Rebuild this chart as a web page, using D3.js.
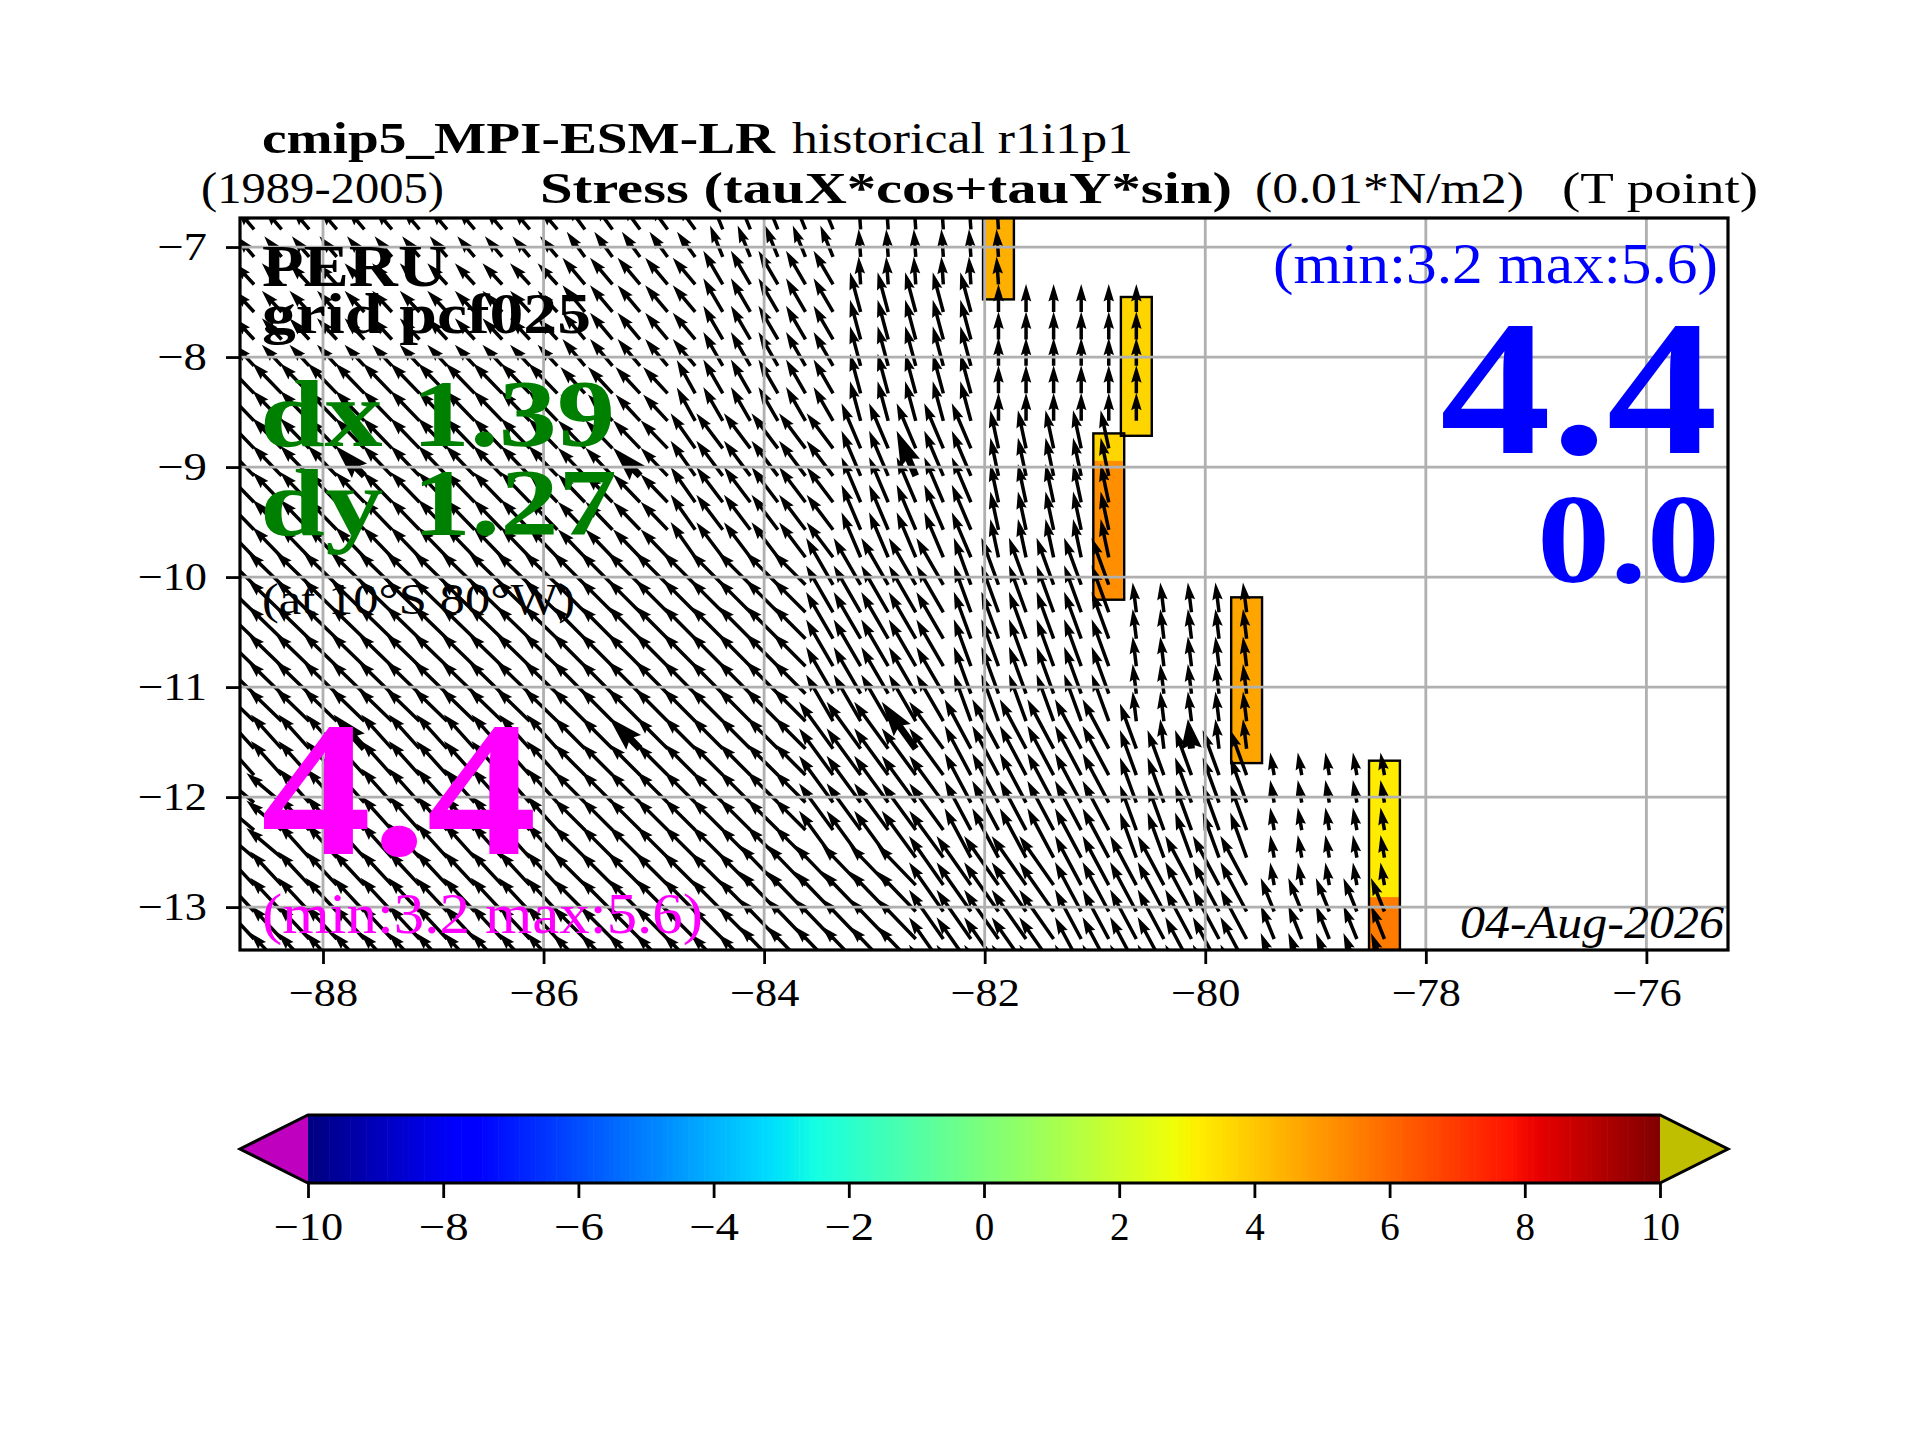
<!DOCTYPE html>
<html><head><meta charset="utf-8">
<style>html,body{margin:0;padding:0;background:#fff}svg{display:block}</style>
<script src="https://cdn.jsdelivr.net/npm/d3@7"></script></head><body>
<script>
// ---- grid of the stress arrows (0.25 degree model grid) ----
const gridLon=[-88.625,-88.375,-88.125,-87.875,-87.625,-87.375,-87.125,-86.875,-86.625,-86.375,-86.125,-85.875,-85.625,-85.375,-85.125,-84.875,-84.625,-84.375,-84.125,-83.875,-83.625,-83.375,-83.125,-82.875,-82.625,-82.375,-82.125,-81.875,-81.625,-81.375,-81.125,-80.875,-80.625,-80.375,-80.125,-79.875,-79.625,-79.375,-79.125,-78.875,-78.625,-78.375];
const gridLat=[-6.84,-7.09,-7.34,-7.59,-7.84,-8.08,-8.33,-8.58,-8.83,-9.08,-9.32,-9.57,-9.82,-10.07,-10.32,-10.56,-10.81,-11.06,-11.31,-11.56,-11.80,-12.05,-12.30,-12.55,-12.80,-13.04,-13.29,-13.54,-13.79];
// ---- stress blocks: the field is constant over each coarse model cell ----
const blockFirstCol=[0,12,17,22,0,12,17,22,27,0,12,16,12,16,17,22,27,0,12,21,26,32,33,32,33,0,0,2,12,21,26,37,0,12,19,25,30,37];
const blockLastCol =[11,16,21,27,11,16,21,26,32,11,15,16,15,16,21,26,31,11,20,25,31,36,36,32,36,1,1,11,20,25,31,41,11,18,24,29,36,41];
const blockFirstRow=[0,0,0,0,2,2,2,3,3,6,6,6,8,8,8,8,8,13,13,13,13,14,19,19,20,19,21,19,19,19,19,20,24,24,24,24,24,25];
const blockLastRow =[1,1,1,2,5,5,7,7,7,12,7,7,12,12,12,12,12,18,18,18,18,18,19,23,23,20,23,23,23,23,23,24,28,28,28,28,28,28];
const blockHeading =[130,126,112,94,133,130,120,105,90,134,133,119,134,125,127,113,102,136,135,120,110,97,97,110,110,132,140,132,135,126,118,100,133,135,134,125,118,112];
const blockStress  =[2.7,3.1,3.4,2.8,2.9,3.5,3.9,4.1,2.8,4.2,3.6,3.8,3.9,4.3,4.4,4.9,3.9,4.7,4.6,5.4,5.0,3.0,3.0,4.8,4.8,4.6,4.6,4.6,4.4,5.8,5.6,2.3,4.6,4.6,5.6,6.0,5.6,3.6];
// arrows drawn heavier
const boldCol=[4,14,24,4,14,24,34];
const boldRow=[9,9,9,19,19,19,19];
// ---- coastal cells coloured by along-shore stress ----
const coastCol     =[27,32,31,31,36,41,41];
const coastFirstRow=[0,3,8,9,14,20,25];
const coastLastRow =[2,7,8,13,19,24,28];
const coastValue   =[4.5,3.7,3.7,5.2,4.7,3.2,5.6];
// ---- ticks ----
const lonTicks=[-88,-86,-84,-82,-80,-78,-76];
const latTicks=[-7,-8,-9,-10,-11,-12,-13];
const cbarTicks=[-10,-8,-6,-4,-2,0,2,4,6,8,10];
const cbarLevels=d3.range(0,256);

const W=1920,H=1440,FONT='"Liberation Serif",serif';
const L=240,R=1728,T=218,B=950;
const svg=d3.select("body").append("svg").attr("width",W).attr("height",H).attr("viewBox",`0 0 ${W} ${H}`);
svg.append("rect").attr("width",W).attr("height",H).attr("fill","#fff");
const x=d3.scaleLinear().domain([-88.7525,-75.26]).range([L,R]);
const y=d3.scaleLinear().domain([-6.736,-13.39]).range([T,B]);

const jetStops=(t,s)=>{for(let i=1;i<s.length;i++){if(t<=s[i][0]){const a=s[i-1],b=s[i];return a[1]+(b[1]-a[1])*(t-a[0])/(b[0]-a[0]);}}return s[s.length-1][1];};
const jR=[[0,0],[.35,0],[.66,1],[.89,1],[1,.5]],jG=[[0,0],[.125,0],[.375,1],[.64,1],[.91,0],[1,0]],jB=[[0,.5],[.11,1],[.34,1],[.65,0],[1,0]];
const jet=t=>d3.rgb(255*jetStops(t,jR),255*jetStops(t,jG),255*jetStops(t,jB)).formatHex();
const colorT=d3.scaleLinear().domain([-10,10]).range([0,1]);

const defs=svg.append("defs");
defs.append("clipPath").attr("id","ax").append("rect").attr("x",L).attr("y",T).attr("width",R-L).attr("height",B-T);
const plot=svg.append("g").attr("clip-path","url(#ax)");

// coastal cells
const rowTop=r=>(r>0?(y(gridLat[r-1])+y(gridLat[r]))/2:y(gridLat[0])-13.6)-1.2;
const rowBot=r=>(r<gridLat.length-1?(y(gridLat[r+1])+y(gridLat[r]))/2:y(gridLat[r])+13.6)+1.2;
const cellL=c=>x(gridLon[c]-0.14),cellR=c=>x(gridLon[c]+0.14);
plot.selectAll("rect.coast").data(coastCol.map((c,i)=>({c,a:coastFirstRow[i],b:coastLastRow[i],v:coastValue[i]})))
 .join("rect").attr("class","coast")
 .attr("x",d=>cellL(d.c)).attr("width",d=>cellR(d.c)-cellL(d.c))
 .attr("y",d=>rowTop(d.a)).attr("height",d=>rowBot(d.b)-rowTop(d.a))
 .attr("fill",d=>jet(colorT(d.v)));
const outlines=Array.from(d3.group(coastCol.map((c,i)=>({c,a:coastFirstRow[i],b:coastLastRow[i]})),d=>d.c).values());
plot.selectAll("rect.outline").data(outlines).join("rect").attr("class","outline")
 .attr("x",g=>cellL(g[0].c)).attr("width",g=>cellR(g[0].c)-cellL(g[0].c))
 .attr("y",g=>rowTop(d3.min(g,d=>d.a))).attr("height",g=>rowBot(d3.max(g,d=>d.b))-rowTop(d3.min(g,d=>d.a)))
 .attr("fill","none").attr("stroke","#000").attr("stroke-width",2.4);

// quiver
const arrows=[];
blockFirstCol.forEach((c0,b)=>{
 for(let c=c0;c<=blockLastCol[b];c++)for(let r=blockFirstRow[b];r<=blockLastRow[b];r++){
  const a=blockHeading[b]*Math.PI/180;
  arrows.push({lon:gridLon[c],lat:gridLat[r],u:blockStress[b]*Math.cos(a),v:blockStress[b]*Math.sin(a),c,r});
 }
});
const boldSet=new Set(boldCol.map((c,i)=>c+"_"+boldRow[i]));
const quiverScale=10; // px per 0.01 N/m2
function arrowPath(d,w){
 const x0=x(d.lon),y0=y(d.lat),len=Math.hypot(d.u,d.v)*quiverScale;
 const ux=d.u/Math.hypot(d.u,d.v),uy=-d.v/Math.hypot(d.u,d.v),nx=-uy,ny=ux;
 const hl=Math.min(5*w,len),ha=Math.min(4.5*w,len*0.9),hw=1.5*w,sw=w/2;
 const P=(a,b)=>[x0+ux*a+nx*b,y0+uy*a+ny*b];
 const pts=[P(0,-sw),P(len-ha,-sw),P(len-hl,-hw),P(len,0),P(len-hl,hw),P(len-ha,sw),P(0,sw)];
 return d3.line()(pts)+"Z";
}
plot.selectAll("path.arrow").data(arrows).join("path").attr("class","arrow")
 .attr("d",d=>arrowPath(d,boldSet.has(d.c+"_"+d.r)?7:3.5)).attr("fill","#000");

// grid
const grid=svg.append("g").attr("stroke","#b0b0b0").attr("stroke-width",2.8);
grid.selectAll("line.v").data(lonTicks).join("line").attr("x1",d=>x(d)).attr("x2",d=>x(d)).attr("y1",T).attr("y2",B);
grid.selectAll("line.h").data(latTicks).join("line").attr("y1",d=>y(d)).attr("y2",d=>y(d)).attr("x1",L).attr("x2",R);

// axes
const minus=d=>String(d).replace("-","\u2212");
function styleAxis(g,dy,yAttr){
 g.select(".domain").remove();
 g.selectAll(".tick line").attr("stroke","#000").attr("stroke-width",2.8);
 g.selectAll(".tick text").attr("font-family",FONT).attr("font-size",39).attr("fill","#000")
  .each(function(d){const n=String(Math.abs(d)).length;const t=d3.select(this);
    t.attr("textLength",((d<0?.778:0)+.5*n)*39).attr("lengthAdjust","spacingAndGlyphs");
    if(yAttr!==null){t.attr("dy",dy).attr("y",yAttr);}else{t.attr("dy",dy);}});
}
svg.append("g").attr("transform",`translate(0,${B})`)
 .call(d3.axisBottom(x).tickValues(lonTicks).tickSize(14).tickFormat(minus)).call(g=>styleAxis(g,0,56));
svg.append("g").attr("transform",`translate(${L},0)`)
 .call(d3.axisLeft(y).tickValues(latTicks).tickSize(14).tickPadding(19).tickFormat(minus)).call(g=>styleAxis(g,"0.33em",null));
svg.append("rect").attr("x",L).attr("y",T).attr("width",R-L).attr("height",B-T).attr("fill","none").attr("stroke","#000").attr("stroke-width",3.2);

// text helper
function txt(s,px,py,size,o={}){
 const t=svg.append("text").text(s).attr("x",px).attr("y",py).attr("font-family",FONT).attr("font-size",size)
  .attr("fill",o.fill||"#000").attr("font-weight",o.weight||"normal").attr("font-style",o.style||"normal").attr("text-anchor",o.anchor||"start");
 if(o.width)t.attr("textLength",o.width).attr("lengthAdjust","spacingAndGlyphs");
 return t;
}
txt("cmip5_MPI-ESM-LR",262,153,44,{weight:"bold",width:513});
txt("historical r1i1p1",792,153,44,{width:341});
txt("(1989-2005)",201,203,44,{width:243});
txt("Stress (tauX*cos+tauY*sin)",540,203,44,{weight:"bold",width:692});
txt("(0.01*N/m2)",1255,203,44,{width:269});
txt("(T point)",1562,203,44,{width:196});

txt("PERU",262,286,60,{weight:"bold",width:185});
txt("grid pcf025",262,333,58,{weight:"bold",width:329});
txt("dx 1.39",260,446,96,{weight:"bold",fill:"#008000",width:355});
txt("dy 1.27",260,535,96,{weight:"bold",fill:"#008000",width:357});
txt("(at 10\u00b0S 80\u00b0W)",262,614,44,{width:313});
txt("4.4",261,854,192,{weight:"bold",fill:"#ff00ff",width:276});
txt("(min:3.2 max:5.6)",262,933,56,{fill:"#ff00ff",width:441});
txt("(min:3.2 max:5.6)",1273,283,56,{fill:"#0000ff",width:445});
txt("4.4",1440,453,192,{weight:"bold",fill:"#0000ff",width:278});
txt("0.0",1537,582,128,{weight:"bold",fill:"#0000ff",width:183});
txt("04-Aug-2026",1460,938,46,{style:"italic",width:264});

// colour bar
const cbL=308,cbR=1660,cbT=1115,cbB=1183,cbTipL=240,cbTipR=1728,cbMid=1149;
const cb=d3.scaleLinear().domain([-10,10]).range([cbL,cbR]);
const cbg=svg.append("g");
const nLev=cbarLevels.length;
cbg.selectAll("rect").data(cbarLevels).join("rect")
 .attr("x",i=>cb(-10+20*i/nLev)).attr("width",i=>cb(-10+20*(i+1)/nLev)-cb(-10+20*i/nLev)+0.6)
 .attr("y",cbT).attr("height",cbB-cbT).attr("fill",i=>jet((i+.5)/nLev));
cbg.append("path").attr("d",d3.line()([[cbL,cbT],[cbTipL,cbMid],[cbL,cbB]])+"Z").attr("fill","#bf00bf");
cbg.append("path").attr("d",d3.line()([[cbR,cbT],[cbTipR,cbMid],[cbR,cbB]])+"Z").attr("fill","#bfbf00");
cbg.append("path").attr("d",d3.line()([[cbL,cbT],[cbR,cbT],[cbTipR,cbMid],[cbR,cbB],[cbL,cbB],[cbTipL,cbMid]])+"Z")
 .attr("fill","none").attr("stroke","#000").attr("stroke-width",3).attr("stroke-linejoin","miter");
svg.append("g").attr("transform",`translate(0,${cbB})`)
 .call(d3.axisBottom(cb).tickValues(cbarTicks).tickSize(15).tickFormat(minus)).call(g=>styleAxis(g,0,57));
</script></body></html>
